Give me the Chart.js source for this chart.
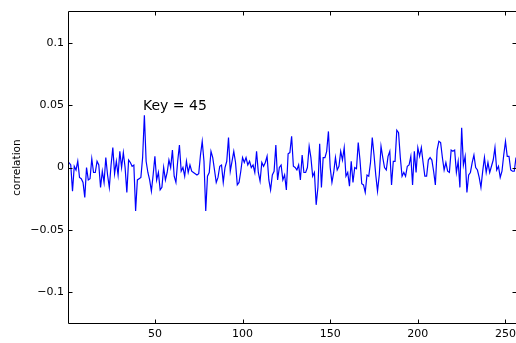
<!DOCTYPE html>
<html>
<head>
<meta charset="utf-8">
<script src="https://cdn.jsdelivr.net/npm/chart.js@4.4.1/dist/chart.umd.min.js"></script>
<style>
  html, body { margin: 0; padding: 0; background: #fff; }
  #wrap { width: 516px; height: 343px; }
</style>
</head>
<body>
<div id="wrap"><canvas id="corrChart" width="516" height="343"></canvas></div>
<script>
// correlation for each guess index 1..256
const correlation = [
    0.004, 0.002, -0.019, 0.001, -0.002, 0.005, -0.008, -0.009, -0.012, -0.024,
    0.000, -0.010, -0.009, 0.007, -0.004, -0.004, 0.005, 0.002, -0.016, -0.003,
    -0.012, 0.008, -0.006, -0.016, 0.002, 0.016, -0.005, 0.005, -0.006, 0.013,
    0.000, 0.012, 0.000, -0.020, 0.006, 0.004, 0.001, 0.002, -0.035, -0.010,
    -0.009, -0.008, 0.008, 0.042, 0.005, -0.004, -0.010, -0.019, -0.006, 0.009,
    -0.010, -0.004, -0.018, -0.016, 0.000, -0.010, -0.004, 0.006, 0.000, 0.014,
    -0.007, -0.012, 0.005, 0.018, -0.003, 0.000, -0.007, 0.005, -0.004, 0.002,
    -0.003, -0.004, -0.005, -0.006, -0.005, 0.010, 0.021, 0.005, -0.035, -0.007,
    -0.004, 0.013, 0.008, -0.002, -0.012, -0.008, 0.001, 0.002, -0.012, 0.000,
    0.005, 0.024, -0.003, 0.005, 0.013, 0.004, -0.014, -0.012, -0.003, 0.008,
    0.004, 0.008, 0.002, 0.005, 0.000, 0.002, -0.004, 0.013, -0.004, -0.011,
    0.004, 0.001, 0.004, 0.009, -0.010, -0.018, -0.006, -0.003, 0.018, -0.010,
    0.000, 0.002, -0.010, -0.006, -0.018, 0.011, 0.012, 0.025, 0.001, 0.000,
    -0.002, 0.002, -0.010, 0.010, -0.004, -0.004, 0.000, 0.017, 0.008, -0.007,
    -0.004, -0.030, -0.016, 0.019, -0.016, 0.008, 0.008, 0.013, 0.029, 0.000,
    -0.012, -0.004, 0.008, -0.002, 0.001, 0.013, 0.006, 0.016, -0.007, -0.004,
    -0.015, 0.005, -0.012, 0.000, -0.001, 0.020, 0.006, -0.013, -0.014, -0.020,
    -0.006, -0.007, 0.004, 0.024, 0.010, -0.006, -0.019, -0.006, 0.017, 0.008,
    0.000, -0.002, 0.009, 0.013, -0.014, 0.005, 0.005, 0.030, 0.028, 0.008,
    -0.007, -0.004, -0.007, 0.001, 0.002, 0.009, -0.014, 0.013, -0.004, 0.016,
    0.009, 0.016, 0.004, -0.007, -0.007, 0.006, 0.008, 0.006, -0.003,
    -0.014, 0.014, 0.021, 0.020, 0.008, -0.002, 0.004, -0.003, -0.004, 0.014,
    0.013, 0.014, -0.004, 0.005, -0.016, 0.032, 0.002, 0.009, -0.020, -0.006,
    -0.004, 0.004, 0.010, 0.000, -0.002, -0.008, -0.016, -0.003, 0.008, -0.004,
    0.004, -0.004, 0.001, 0.006, 0.016, -0.002, 0.001, -0.008, -0.003, 0.010,
    0.021, 0.009, 0.009, -0.002, -0.003, -0.003, 0.008
];
const xTicks = [50, 100, 150, 200, 250];
const yTicks = [-0.1, -0.05, 0, 0.05, 0.1];
const xRange = [1, 256];
const yRange = [-0.125, 0.125];
const keyText = 'Key = 45';
const keyPos = [43.2, 0.046];

const FONT = 'DejaVu Sans';

// MATLAB-like box with inward tick marks + text annotation
const boxPlugin = {
    id: 'box',
    afterDraw(chart) {
        const ctx = chart.ctx;
        const a = chart.chartArea;
        const xs = chart.scales.x, ys = chart.scales.y;
        const L = Math.round(a.left) - 0.5, R = Math.round(a.right) + 0.5;
        const T = Math.round(a.top) - 0.5, B = Math.round(a.bottom) + 0.5;
        ctx.save();
        ctx.strokeStyle = '#000';
        ctx.lineWidth = 1;
        ctx.beginPath();
        ctx.rect(L, T, R - L, B - T);
        xTicks.forEach(v => {
            const px = Math.round(xs.getPixelForValue(v)) + 0.5;
            ctx.moveTo(px, B); ctx.lineTo(px, B - 4);
            ctx.moveTo(px, T); ctx.lineTo(px, T + 4);
        });
        yTicks.forEach(v => {
            const py = Math.round(ys.getPixelForValue(v)) + 0.5;
            ctx.moveTo(L, py); ctx.lineTo(L + 4, py);
            ctx.moveTo(R, py); ctx.lineTo(R - 4, py);
        });
        ctx.stroke();

        ctx.fillStyle = '#000';
        ctx.font = '14px "' + FONT + '"';
        ctx.textAlign = 'left';
        ctx.textBaseline = 'alphabetic';
        ctx.fillText(keyText, xs.getPixelForValue(keyPos[0]), ys.getPixelForValue(keyPos[1]));
        ctx.restore();
    }
};

const ctx = document.getElementById('corrChart').getContext('2d');
new Chart(ctx, {
    type: 'line',
    data: {
        datasets: [{
            data: correlation.map((v, i) => ({ x: i + 1, y: v })),
            borderColor: '#0000ff',
            borderWidth: 1.2,
            pointRadius: 0,
            tension: 0,
            fill: false
        }]
    },
    options: {
        responsive: false,
        animation: false,
        devicePixelRatio: 1,
        layout: { padding: { top: 12, left: 0, right: -1, bottom: 0 } },
        plugins: { legend: { display: false }, tooltip: { enabled: false } },
        scales: {
            x: {
                type: 'linear',
                min: xRange[0], max: xRange[1],
                grid: { display: false, drawTicks: false },
                border: { display: false },
                ticks: { color: '#000', font: { family: FONT, size: 11 }, padding: 5, maxRotation: 0 },
                afterBuildTicks: s => { s.ticks = xTicks.map(v => ({ value: v })); },
                afterFit: s => { s.height = 20; s.paddingLeft = 0; s.paddingRight = 0; }
            },
            y: {
                min: yRange[0], max: yRange[1],
                grid: { display: false, drawTicks: false },
                border: { display: false },
                ticks: {
                    color: '#000', font: { family: FONT, size: 11 }, padding: 5,
                    callback: v => (v < 0 ? '\u2212' : '') + String(Math.abs(v))
                },
                title: {
                    display: true, text: 'correlation', color: '#000',
                    font: { family: FONT, size: 10.5 },
                    padding: { top: 11, bottom: 0 }
                },
                afterBuildTicks: s => { s.ticks = yTicks.map(v => ({ value: v })); },
                afterFit: s => { s.width = 69; s.paddingTop = 0; s.paddingBottom = 0; }
            }
        }
    },
    plugins: [boxPlugin]
});
</script>
</body>
</html>
